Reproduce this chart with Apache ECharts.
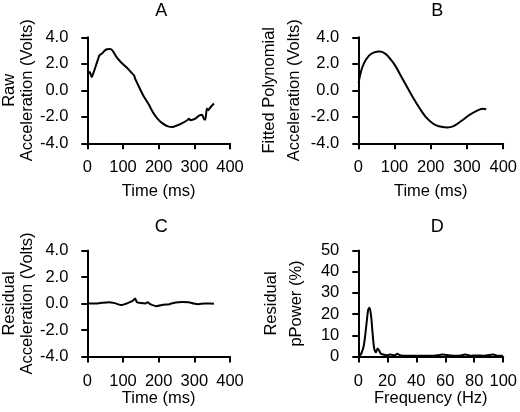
<!DOCTYPE html>
<html>
<head>
<meta charset="utf-8">
<script src="https://cdn.jsdelivr.net/npm/echarts@6/dist/echarts.min.js"></script>
<style>
html,body{margin:0;padding:0;background:#fff;}
#chart{width:520px;height:412px;}
</style>
</head>
<body>
<div id="chart"></div>
<script>
// ---- Data ----
const panelTitles = ['A', 'B', 'C', 'D'];
const timeTicks = [0, 100, 200, 300, 400];
const voltTicks = [-4, -2, 0, 2, 4];
const powerTicks = [0, 10, 20, 30, 40, 50];
const freqTicks = [0, 20, 40, 60, 80, 100];

// Panel A: raw acceleration
const rawTime  = [2, 7, 12, 17, 25, 34, 41, 49, 55, 61, 67, 73, 82, 95, 109, 122, 131, 134, 145, 158, 172, 185, 199, 212, 226, 239, 253, 266, 280, 285, 289, 303, 313, 322, 328, 331, 335, 339, 346, 355];
const rawVolts = [1.26, 1.38, 1.0, 1.3, 1.94, 2.64, 2.77, 3.0, 3.1, 3.12, 3.1, 2.9, 2.5, 2.1, 1.76, 1.38, 1.13, 0.88, 0.25, -0.45, -1.06, -1.71, -2.21, -2.52, -2.72, -2.77, -2.64, -2.47, -2.26, -2.14, -2.26, -2.14, -1.91, -1.84, -2.21, -2.21, -1.38, -1.5, -1.26, -1.0];

// Panel B: fitted polynomial
const fitTime  = [1, 6, 15, 29, 42, 59, 74, 87, 101, 114, 132, 150, 168, 186, 204, 222, 245, 263, 285, 308, 331, 344, 353];
const fitVolts = [0.55, 1.26, 2.0, 2.6, 2.84, 2.92, 2.77, 2.4, 1.9, 1.26, 0.38, -0.5, -1.3, -2.0, -2.47, -2.72, -2.8, -2.7, -2.3, -1.84, -1.5, -1.4, -1.43];

// Panel C: residual
const resTime  = [2, 23, 41, 59, 77, 95, 113, 127, 134, 139, 150, 163, 169, 176, 194, 212, 230, 248, 266, 284, 298, 311, 329, 343, 355];
const resVolts = [0, 0, 0.05, 0.1, 0.03, -0.12, 0.03, 0.2, 0.38, 0.1, 0.03, 0, 0.1, -0.05, -0.2, -0.1, -0.05, 0.08, 0.12, 0.1, 0, -0.05, 0, 0, -0.02];

// Panel D: residual power spectrum
const freqHz   = [0.5, 2, 3.8, 5.4, 6.8, 7.7, 8.8, 9.9, 11, 12.2, 13.3, 14.4, 15.6, 17.4, 19.6, 21.9, 25.3, 26.9, 28.7, 33, 37.7, 42, 47, 52, 55, 58, 62.5, 67, 70, 73.8, 78, 82, 86, 89, 93, 96.4, 99.8];
const powerPct = [0, 1.3, 5.2, 13.8, 22, 23, 19.3, 10.7, 3.6, 2, 3.8, 2.8, 1.3, 0.9, 0.6, 0.9, 0.6, 1.3, 0.6, 0.3, 0.3, 0.4, 0.3, 0.4, 0.6, 0.9, 0.6, 0.3, 0.4, 0.9, 0.4, 0.5, 0.4, 0.6, 0.9, 0.3, 0.4];

// ---- Build chart ----
const FONT = '"Liberation Sans", Arial, Helvetica, sans-serif';
const FS = 16.5;
const pairs = (xs, ys) => xs.map((x, i) => [x, ys[i]]);

const grids = [
  {left: 82.7, top: 37.3, width: 147.3, height: 106},
  {left: 358.3, top: 37.3, width: 147.7, height: 106},
  {left: 82.7, top: 250.5, width: 147.3, height: 106},
  {left: 358.3, top: 250.5, width: 147.7, height: 106}
];

const axisLineStyle = {show: true, onZero: false, lineStyle: {color: '#000', width: 2}};
const tickStyle = {show: true, inside: false, length: 6, lineStyle: {color: '#000', width: 2}};
const labelBase = {color: '#000', fontSize: FS, fontFamily: FONT};

function xAxisCfg(idx, ticks, name, gap) {
  return {
    type: 'value', gridIndex: idx,
    min: ticks[0], max: ticks[ticks.length - 1], interval: ticks[1] - ticks[0],
    name: name, nameLocation: 'middle', nameGap: gap,
    nameTextStyle: {color: '#000', fontSize: FS, fontFamily: FONT},
    axisLine: axisLineStyle, axisTick: tickStyle,
    axisLabel: Object.assign({margin: 16}, labelBase),
    splitLine: {show: false}
  };
}
function yAxisCfg(idx, ticks, name, lh, fmt) {
  return {
    type: 'value', gridIndex: idx,
    min: ticks[0], max: ticks[ticks.length - 1], interval: ticks[1] - ticks[0],
    name: name, nameLocation: 'middle', nameGap: 49, nameRotate: 90,
    nameTextStyle: {color: '#000', fontSize: FS, fontFamily: FONT, lineHeight: lh, align: 'center'},
    axisLine: axisLineStyle, axisTick: tickStyle,
    axisLabel: Object.assign({margin: 19, formatter: fmt}, labelBase),
    splitLine: {show: false}
  };
}
const oneDec = v => v.toFixed(1);

function lineSeries(idx, data, smooth) {
  return {
    type: 'line', xAxisIndex: idx, yAxisIndex: idx,
    data: data, showSymbol: false, symbol: 'none', smooth: smooth,
    lineStyle: {color: '#000', width: 2}, animation: false
  };
}

const titleCenters = [[156.3, -3], [432.2, -3], [156.3, 213], [432.2, 213]];

const option = {
  animation: false,
  backgroundColor: '#fff',
  title: panelTitles.map((t, i) => ({
    text: t, left: titleCenters[i][0], top: titleCenters[i][1], textAlign: 'center',
    textStyle: {color: '#000', fontSize: 18, fontWeight: 'normal', fontFamily: FONT}
  })),
  grid: grids,
  xAxis: [
    xAxisCfg(0, timeTicks, 'Time (ms)', 40),
    xAxisCfg(1, timeTicks, 'Time (ms)', 40),
    xAxisCfg(2, timeTicks, 'Time (ms)', 32),
    xAxisCfg(3, freqTicks, 'Frequency (Hz)', 32)
  ],
  yAxis: [
    yAxisCfg(0, voltTicks, 'Raw\nAcceleration (Volts)', 17.5, oneDec),
    yAxisCfg(1, voltTicks, 'Fitted Polynomial\nAcceleration (Volts)', 25, oneDec),
    yAxisCfg(2, voltTicks, 'Residual\nAcceleration (Volts)', 17.5, oneDec),
    yAxisCfg(3, powerTicks, 'Residual\npPower (%)', 25, v => String(v))
  ],
  series: [
    lineSeries(0, pairs(rawTime, rawVolts), 0.15),
    lineSeries(1, pairs(fitTime, fitVolts), 0.5),
    lineSeries(2, pairs(resTime, resVolts), 0.15),
    lineSeries(3, pairs(freqHz, powerPct), 0.3)
  ]
};

const chart = echarts.init(document.getElementById('chart'), null, {renderer: 'canvas'});
chart.setOption(option);
</script>
</body>
</html>
